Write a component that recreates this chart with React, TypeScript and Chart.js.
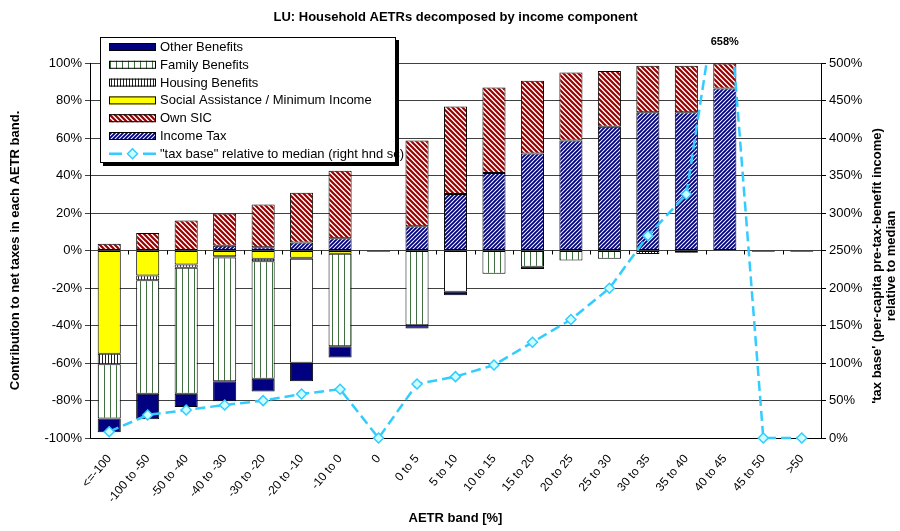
import React, { useEffect, useRef } from 'react';
import { Chart, registerables } from 'chart.js';

Chart.register(...registerables);

const FONT = '"Liberation Sans", Arial, Helvetica, sans-serif';

const chartTitle = 'LU: Household AETRs decomposed by income component';
const xTitle = 'AETR band [%]';
const leftTitle = 'Contribution to net taxes in each AETR band.';
const rightTitleLines = ["'tax base' (per-capita pre-tax-benefit income)", 'relative to median'];

const categories = [
  '<=-100', '-100 to -50', '-50 to -40', '-40 to -30', '-30 to -20', '-20 to -10', '-10 to 0', '0',
  '0 to 5', '5 to 10', '10 to 15', '15 to 20', '20 to 25', '25 to 30', '30 to 35', '35 to 40',
  '40 to 45', '45 to 50', '>50',
];

// contributions, % of net taxes (left axis)
const incomeTax = [0, 0, 0, 2.5, 1.8, 4.3, 6.6, 0, 13, 30.2, 41.4, 51.7, 58.7, 66, 73.8, 73.8, 86.4, 0, 0];
const ownSIC = [3.6, 9.4, 16, 17.2, 22.7, 26.5, 35.9, 0, 45.7, 46.6, 45.6, 38.9, 36.3, 29.8, 24.7, 24.7, 13.3, 0, 0];
const socialAssistance = [-55, -13.3, -7.5, -3, -4.4, -3.9, -1.7, 0, 0, 0, 0, 0, 0, 0, 0, 0, 0, 0, 0];
const housingBenefits = [-5.6, -2.5, -1.7, -0.7, -1.3, -0.5, 0, 0, 0, 0, 0, 0, 0, 0, -1.8, -1.2, 0, 0, 0];
const familyBenefits = [-29, -60.6, -67.2, -66, -62.7, -55.5, -49.4, 0, -39.8, -22, -12.4, -8.7, -5.3, -4.4, 0, 0, 0, 0, 0];
const otherBenefits = [-7.3, -13.6, -7.1, -10.7, -6.8, -9.8, -5.9, -0.6, -1.8, -1.8, 0, -1.1, 0, 0, 0, 0, 0, -0.6, -0.6];
// bands where the family-benefit block shows without its hatch
const plainFamilyBands = ['-20 to -10', '5 to 10'];

// "tax base" relative to median, % (right axis)
const taxBase = [8.4, 30.7, 37.3, 44, 49.8, 58.7, 65, 0, 72, 81.8, 97.3, 127.6, 158, 199.6, 269.8, 325, 658, 0, 0];

const leftTickValues = { min: -100, max: 100, step: 20 };
const rightTickValues = { min: 0, max: 500, step: 50 };

function diagPattern(color: string, bg: string, p: number, lw: number, dir: 'up' | 'down') {
  const c = document.createElement('canvas');
  c.width = p;
  c.height = p;
  const g = c.getContext('2d')!;
  g.fillStyle = bg;
  g.fillRect(0, 0, p, p);
  g.strokeStyle = color;
  g.lineWidth = lw;
  g.beginPath();
  if (dir === 'up') {
    g.moveTo(0, p); g.lineTo(p, 0);
    g.moveTo(-1, 1); g.lineTo(1, -1);
    g.moveTo(p - 1, p + 1); g.lineTo(p + 1, p - 1);
  } else {
    g.moveTo(0, 0); g.lineTo(p, p);
    g.moveTo(p - 1, -1); g.lineTo(p + 1, 1);
    g.moveTo(-1, p - 1); g.lineTo(1, p + 1);
  }
  g.stroke();
  return g.createPattern(c, 'repeat')!;
}

function vertPattern(color: string, bg: string, p: number, x: number, lw: number) {
  const c = document.createElement('canvas');
  c.width = p;
  c.height = 2;
  const g = c.getContext('2d')!;
  g.fillStyle = bg;
  g.fillRect(0, 0, p, 2);
  g.fillStyle = color;
  g.fillRect(x, 0, lw, 2);
  return g.createPattern(c, 'repeat')!;
}

export default function App() {
  const ref = useRef<HTMLCanvasElement | null>(null);

  useEffect(() => {
    if (!ref.current) return;
    const itPat = diagPattern('#000080', '#ffffff', 4, 1.9, 'up');
    const sicPat = diagPattern('#990000', '#ffffff', 5, 2.2, 'down');
    const famPat = vertPattern('#3f6f3f', '#ffffff', 6, 2, 1);
    const housePat = vertPattern('#222222', '#ffffff', 3, 0, 1);
    const famColors = categories.map((c) => (plainFamilyBands.includes(c) ? '#ffffff' : famPat));

    const legendItems = [
      { label: 'Other Benefits', fill: '#000080' as any },
      { label: 'Family Benefits', fill: famPat as any },
      { label: 'Housing Benefits', fill: housePat as any },
      { label: 'Social Assistance / Minimum Income', fill: '#FFFF00' as any },
      { label: 'Own SIC', fill: sicPat as any },
      { label: 'Income Tax', fill: itPat as any },
      { label: '"tax base" relative to median (right hnd sc)', fill: null as any },
    ];

    const decor = {
      id: 'decor',
      afterDraw(chart: any) {
        const { ctx, chartArea, scales } = chart;
        const xs = scales.x;
        const ys = scales.y;
        ctx.save();
        // zero-line category ticks
        const y0 = ys.getPixelForValue(0);
        const n = categories.length;
        const w = (chartArea.right - chartArea.left) / n;
        ctx.strokeStyle = '#000';
        ctx.lineWidth = 1;
        ctx.beginPath();
        for (let i = 1; i < n; i++) {
          const x = Math.round(chartArea.left + i * w) + 0.5;
          ctx.moveTo(x, y0);
          ctx.lineTo(x, y0 + 4);
        }
        ctx.stroke();

        // main title
        ctx.fillStyle = '#000';
        ctx.textAlign = 'center';
        ctx.textBaseline = 'middle';
        ctx.font = `bold 13px ${FONT}`;
        ctx.fillText(chartTitle, (chartArea.left + chartArea.right) / 2, 17);

        // peak label for off-scale point
        const peak = Math.max(...taxBase);
        const peakIdx = taxBase.indexOf(peak);
        ctx.font = `bold 11px ${FONT}`;
        ctx.fillText(`${peak}%`, xs.getPixelForValue(peakIdx), chartArea.top - 21);

        // right axis title (reads bottom to top)
        ctx.save();
        ctx.translate(chartArea.right + 56, 266);
        ctx.rotate(-Math.PI / 2);
        ctx.font = `bold 13px ${FONT}`;
        ctx.fillText(rightTitleLines[0], 0, 0);
        ctx.fillText(rightTitleLines[1], 0, 14.5);
        ctx.restore();

        // legend
        const bx = chartArea.left + 10;
        const by = chartArea.top - 26;
        const bw = 296;
        const bh = 126;
        ctx.fillStyle = '#000';
        ctx.fillRect(bx + 3, by + 3, bw, bh);
        ctx.fillStyle = '#fff';
        ctx.fillRect(bx, by, bw, bh);
        ctx.strokeStyle = '#000';
        ctx.lineWidth = 1;
        ctx.strokeRect(bx + 0.5, by + 0.5, bw - 1, bh - 1);
        ctx.font = `13px ${FONT}`;
        ctx.textAlign = 'left';
        ctx.textBaseline = 'middle';
        legendItems.forEach((it, i) => {
          const cy = by + 10 + i * 17.8;
          const sx = bx + 9;
          const sw = 47;
          if (it.fill) {
            ctx.fillStyle = it.fill;
            ctx.fillRect(sx, cy - 4, sw, 8);
            ctx.strokeStyle = '#000';
            ctx.strokeRect(sx + 0.5, cy - 4 + 0.5, sw - 1, 8 - 1);
          } else {
            ctx.strokeStyle = '#33CCFF';
            ctx.lineWidth = 2.5;
            ctx.beginPath();
            ctx.moveTo(sx, cy); ctx.lineTo(sx + 13, cy);
            ctx.moveTo(sx + 34, cy); ctx.lineTo(sx + sw, cy);
            ctx.stroke();
            const dx = sx + 23.5;
            ctx.beginPath();
            ctx.moveTo(dx, cy - 5); ctx.lineTo(dx + 5, cy); ctx.lineTo(dx, cy + 5); ctx.lineTo(dx - 5, cy);
            ctx.closePath();
            ctx.fillStyle = '#CCFFFF';
            ctx.fill();
            ctx.lineWidth = 1.5;
            ctx.stroke();
            ctx.lineWidth = 1;
          }
          ctx.fillStyle = '#000';
          ctx.fillText(it.label, sx + sw + 4, cy + 0.5);
        });
        ctx.restore();
      },
    };

    const barCommon = {
      borderColor: '#000',
      borderWidth: 1,
      borderSkipped: false,
      barPercentage: 0.6,
      categoryPercentage: 1.0,
      order: 1,
    };

    const chart = new Chart(ref.current, {
      type: 'bar',
      data: {
        labels: categories,
        datasets: [
          { label: 'Income Tax', data: incomeTax, backgroundColor: itPat, ...barCommon } as any,
          { label: 'Own SIC', data: ownSIC, backgroundColor: sicPat, ...barCommon } as any,
          { label: 'Social Assistance / Minimum Income', data: socialAssistance, backgroundColor: '#FFFF00', ...barCommon } as any,
          { label: 'Housing Benefits', data: housingBenefits, backgroundColor: housePat, ...barCommon } as any,
          { label: 'Family Benefits', data: familyBenefits, backgroundColor: famColors, ...barCommon } as any,
          { label: 'Other Benefits', data: otherBenefits, backgroundColor: '#000080', ...barCommon } as any,
          {
            type: 'line',
            label: '"tax base" relative to median (right hnd sc)',
            data: taxBase,
            yAxisID: 'y1',
            borderColor: '#33CCFF',
            borderWidth: 2.5,
            borderDash: [10, 5],
            pointStyle: 'rectRot',
            pointRadius: 5,
            pointBackgroundColor: '#CCFFFF',
            pointBorderColor: '#33CCFF',
            pointBorderWidth: 1.5,
            fill: false,
            tension: 0,
            order: 0,
            clip: { left: 8, right: 8, top: 0, bottom: 8 },
          } as any,
        ],
      },
      options: {
        animation: false,
        responsive: false,
        layout: { padding: { top: 63, left: 0, right: 0, bottom: 0 } },
        plugins: { legend: { display: false }, tooltip: { enabled: false }, title: { display: false } },
        scales: {
          x: {
            stacked: true,
            grid: { display: false, drawTicks: false },
            border: { display: true, color: '#000' },
            ticks: { color: '#000', font: { size: 12, family: FONT }, maxRotation: 50, minRotation: 50, padding: 14, autoSkip: false },
            title: { display: true, text: xTitle, color: '#000', font: { size: 13, weight: 'bold', family: FONT }, padding: { top: 0, bottom: 5 } },
            afterFit(s: any) { s.height = 93; },
          },
          y: {
            stacked: true,
            min: leftTickValues.min,
            max: leftTickValues.max,
            ticks: { stepSize: leftTickValues.step, callback: (v: any) => `${v}%`, color: '#000', font: { size: 13, family: FONT }, padding: 3 },
            grid: { color: '#404040', tickLength: 5, drawTicks: true },
            border: { color: '#000' },
            title: { display: true, text: leftTitle, color: '#000', font: { size: 13, weight: 'bold', family: FONT }, padding: { top: 8, bottom: 0 } },
            afterFit(s: any) { s.width = 90; },
          },
          y1: {
            position: 'right',
            min: rightTickValues.min,
            max: rightTickValues.max,
            ticks: { stepSize: rightTickValues.step, callback: (v: any) => `${v}%`, color: '#000', font: { size: 13, family: FONT }, padding: 3 },
            grid: { drawOnChartArea: false, color: '#000', tickLength: 5, drawTicks: true },
            border: { color: '#000' },
            afterFit(s: any) { s.width = 79; },
          },
        },
      } as any,
      plugins: [decor],
    });
    return () => chart.destroy();
  }, []);

  return (
    <div style={{ position: 'absolute', left: 0, top: 0, width: 900, height: 531, background: '#fff' }}>
      <canvas ref={ref} width={900} height={531} style={{ display: 'block' }} />
    </div>
  );
}
